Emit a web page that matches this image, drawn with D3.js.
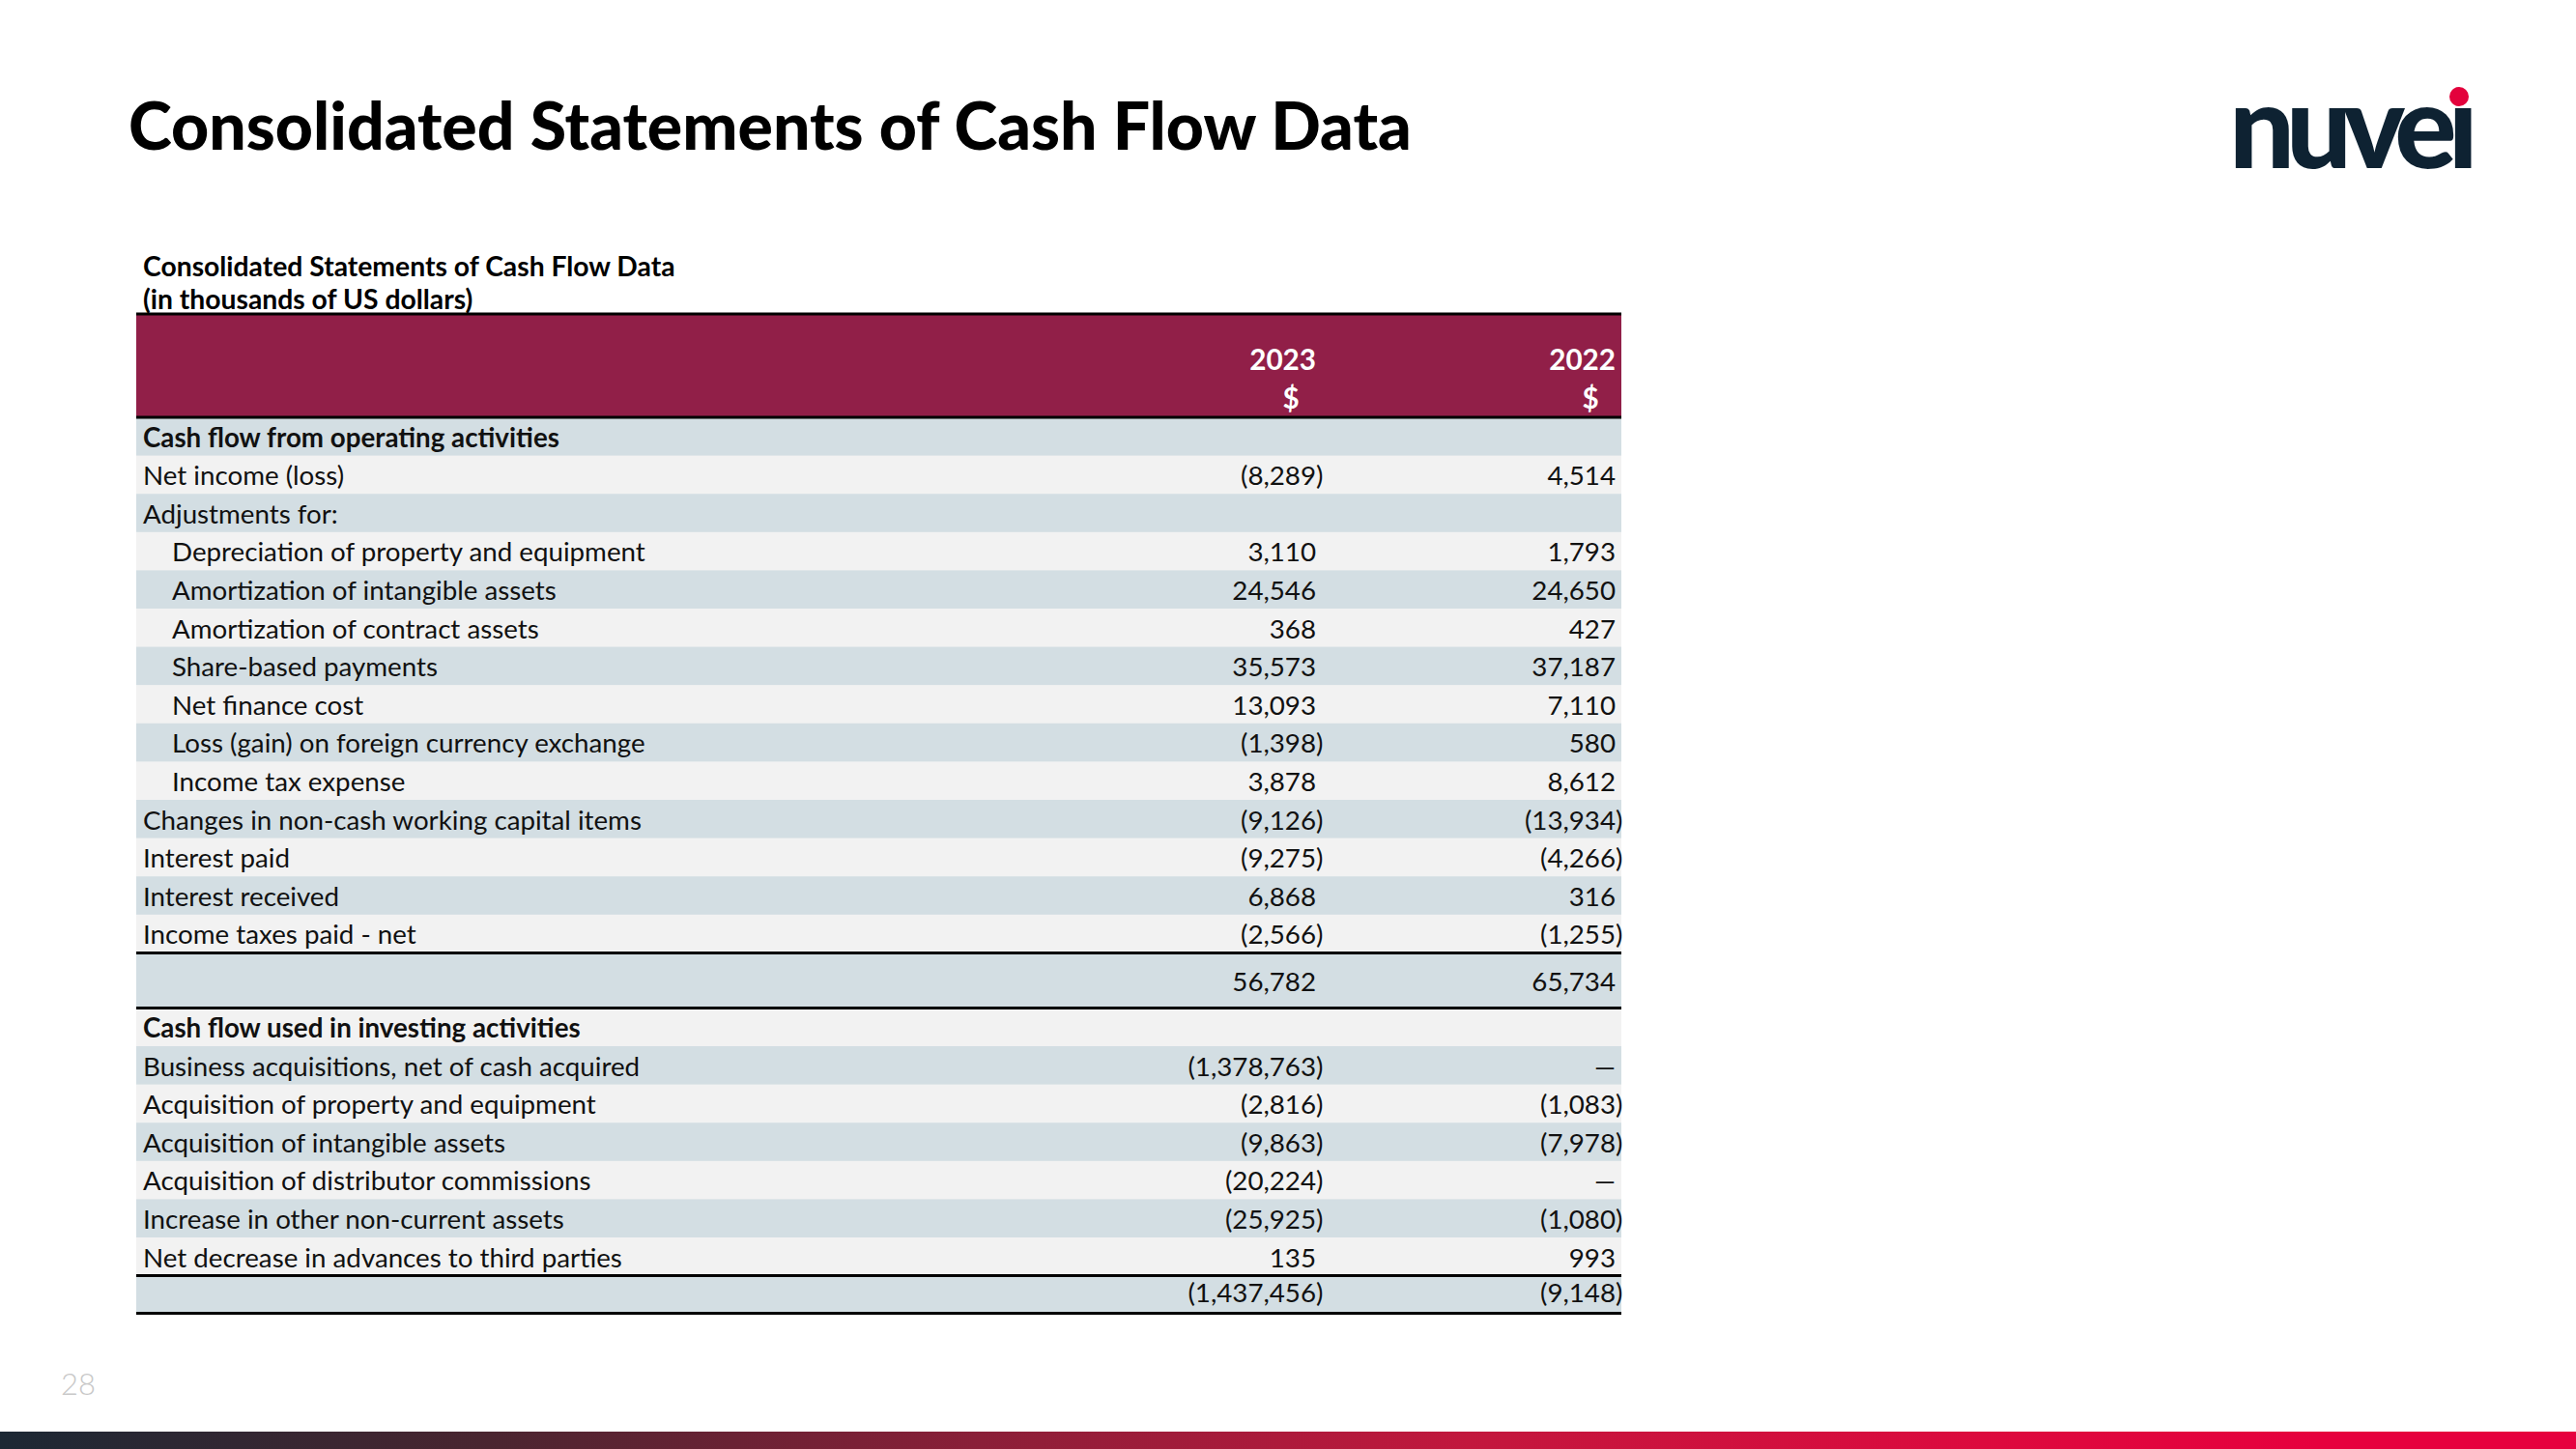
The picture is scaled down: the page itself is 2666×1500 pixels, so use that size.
<!DOCTYPE html>
<html>
<head>
<meta charset="utf-8">
<script src="https://cdn.jsdelivr.net/npm/d3@7"></script>
<style>
  html, body { margin: 0; padding: 0; background: #ffffff; }
  svg { display: block; }
</style>
</head>
<body>
<script>
// ---------------- DATA ----------------
const title = "Consolidated Statements of Cash Flow Data";
const subtitleLines = ["Consolidated Statements of Cash Flow Data", "(in thousands of US dollars)"];
const years = ["2023", "2022"];
const currency = "$";
const pageNumber = "28";

const labels = [
  "Cash flow from operating activities",
  "Net income (loss)",
  "Adjustments for:",
  "Depreciation of property and equipment",
  "Amortization of intangible assets",
  "Amortization of contract assets",
  "Share-based payments",
  "Net finance cost",
  "Loss (gain) on foreign currency exchange",
  "Income tax expense",
  "Changes in non-cash working capital items",
  "Interest paid",
  "Interest received",
  "Income taxes paid - net",
  "",
  "Cash flow used in investing activities",
  "Business acquisitions, net of cash acquired",
  "Acquisition of property and equipment",
  "Acquisition of intangible assets",
  "Acquisition of distributor commissions",
  "Increase in other non-current assets",
  "Net decrease in advances to third parties",
  ""
];
// row kinds: section (bold heading), item, sub (indented item), total
const rowKinds = [
  "section", "item", "item", "sub", "sub", "sub", "sub", "sub", "sub", "sub",
  "item", "item", "item", "item", "total",
  "section", "item", "item", "item", "item", "item", "item", "total"
];
// null = no value, 0 = dash
const values2023 = [
  null, -8289, null, 3110, 24546, 368, 35573, 13093, -1398, 3878,
  -9126, -9275, 6868, -2566, 56782,
  null, -1378763, -2816, -9863, -20224, -25925, 135, -1437456
];
const values2022 = [
  null, 4514, null, 1793, 24650, 427, 37187, 7110, 580, 8612,
  -13934, -4266, 316, -1255, 65734,
  null, 0, -1083, -7978, 0, -1080, 993, -9148
];

// ---------------- LAYOUT ----------------
const W = 2666, H = 1500;
const FONT = "Lato, 'Open Sans', sans-serif";
const svg = d3.select("body").append("svg").attr("width", W).attr("height", H);

function measure(text, weight, size, spacing) {
  const t = svg.append("text").attr("font-family", FONT).attr("font-weight", weight)
    .attr("font-size", size).attr("letter-spacing", spacing || 0).text(text);
  const w = t.node().getComputedTextLength();
  t.remove();
  return w;
}
function fitSize(text, weight, target, base) {
  return base * target / measure(text, weight, base);
}

// Title
const titleSize = fitSize(title, 900, 1328, 60);
svg.append("text").attr("x", 133).attr("y", 155)
  .attr("font-family", FONT).attr("font-weight", 900).attr("font-size", titleSize)
  .attr("fill", "#000").text(title);

// Logo (dotless i + red dot)
const logoText = "nuve\u0131";
const logoSize = 120;
const logoNat = measure(logoText, 900, logoSize);
const logoSpacing = (249 - logoNat) / logoText.length;
svg.append("text").attr("x", 2307).attr("y", 174)
  .attr("font-family", FONT).attr("font-weight", 900).attr("font-size", logoSize)
  .attr("letter-spacing", logoSpacing)
  .attr("fill", "#0e2232").text(logoText);
svg.append("circle").attr("cx", 2545).attr("cy", 100).attr("r", 10).attr("fill", "#e3023c");

// Subtitle
const subSize = fitSize(subtitleLines[0], 700, 551, 24);
svg.selectAll("text.sub").data(subtitleLines).join("text")
  .attr("class", "sub")
  .attr("x", 148).attr("y", (d, i) => 276 + i * 34).attr("dy", "0.35em")
  .attr("font-family", FONT).attr("font-weight", 700).attr("font-size", subSize)
  .attr("fill", "#000").text(d => d);

// Table geometry
const tableLeft = 141, tableRight = 1678;
const headerTop = 325, headerBottom = 432;
const rowHeights = rowKinds.map((k, i) => i === 14 ? 57 : (i === 22 ? 39 : 39.6));
const rowTops = [headerBottom];
rowHeights.forEach((h, i) => rowTops.push(rowTops[i] + h));

const tableFs = fitSize("Depreciation of property and equipment", 400, 490, 24);

// header
svg.append("rect").attr("x", tableLeft).attr("y", headerTop)
  .attr("width", tableRight - tableLeft).attr("height", headerBottom - headerTop)
  .attr("fill", "#911f48");

const colX = d3.scaleOrdinal().domain(years).range([1362, 1672]);
const yearSize = tableFs * 1.07;
const gH = svg.append("g");
years.forEach(y => {
  gH.append("text").attr("x", colX(y)).attr("y", 373).attr("dy", "0.35em")
    .attr("text-anchor", "end").attr("font-family", FONT).attr("font-weight", 700)
    .attr("font-size", yearSize).attr("fill", "#fff").text(y);
  gH.append("text").attr("x", colX(y) - 26).attr("y", 413).attr("dy", "0.35em")
    .attr("text-anchor", "middle").attr("font-family", FONT).attr("font-weight", 700)
    .attr("font-size", yearSize).attr("fill", "#fff").text(currency);
});

// rows
const fillScale = d3.scaleOrdinal().domain([0, 1]).range(["#d3dee3", "#f2f2f2"]);
const rows = labels.map((l, i) => ({
  label: l, kind: rowKinds[i], v: [values2023[i], values2022[i]],
  top: rowTops[i], h: rowHeights[i], i
}));

const gRows = svg.append("g");
gRows.selectAll("rect").data(rows).join("rect")
  .attr("x", tableLeft).attr("y", d => d.top)
  .attr("width", tableRight - tableLeft).attr("height", d => d.h + 0.5)
  .attr("fill", d => fillScale(d.i % 2));

gRows.selectAll("text.lbl").data(rows.filter(r => r.label)).join("text")
  .attr("class", "lbl")
  .attr("x", d => d.kind === "sub" ? 178 : 148)
  .attr("y", d => d.top + d.h / 2 + 1).attr("dy", "0.35em")
  .attr("font-family", FONT).attr("font-weight", d => d.kind === "section" ? 700 : 400)
  .attr("font-size", tableFs).attr("fill", "#111").text(d => d.label);

// paren width
const numFs = tableFs;
const parenW = measure(")", 400, numFs);

const fmt = d3.format(",");
function fmtVal(v) {
  if (v === null) return "";
  if (v === 0) return "\u2014";
  return v < 0 ? "(" + fmt(-v) + ")" : fmt(v);
}
const cells = [];
rows.forEach(r => r.v.forEach((v, j) => {
  if (v !== null) cells.push({ r, v, year: years[j] });
}));
gRows.selectAll("text.val").data(cells).join("text")
  .attr("class", "val")
  .attr("x", d => colX(d.year) + (d.v < 0 ? parenW : 0))
  .attr("y", d => d.r.top + d.r.h / 2 + (d.r.i === 22 ? -2 : 1)).attr("dy", "0.35em")
  .attr("text-anchor", "end")
  .attr("font-family", FONT).attr("font-weight", 400)
  .attr("font-size", numFs).attr("fill", "#111").text(d => fmtVal(d.v));

// rules
const ruleYs = [headerTop, headerBottom, rowTops[14], rowTops[15], rowTops[22], rowTops[23]];
svg.append("g").selectAll("line").data(ruleYs).join("line")
  .attr("x1", tableLeft).attr("x2", tableRight)
  .attr("y1", d => d).attr("y2", d => d)
  .attr("stroke", "#000").attr("stroke-width", 3);

// page number
svg.append("text").attr("x", 63).attr("y", 1433).attr("dy", "0.35em")
  .attr("font-family", FONT).attr("font-weight", 300).attr("font-size", 31)
  .attr("fill", "#c8c8c8").text(pageNumber);

// bottom gradient bar
const defs = svg.append("defs");
const grad = defs.append("linearGradient").attr("id", "bar").attr("x1", "0").attr("x2", "1");
[[0, "#1c2834"], [0.19, "#4a2530"], [0.38, "#8a1f38"], [0.57, "#c2173d"], [0.77, "#dc0a3e"], [0.9, "#e6003e"], [1, "#e6003e"]]
  .forEach(([o, c]) => grad.append("stop").attr("offset", o).attr("stop-color", c));
svg.append("rect").attr("x", 0).attr("y", 1482).attr("width", W).attr("height", 18).attr("fill", "url(#bar)");
</script>
</body>
</html>
